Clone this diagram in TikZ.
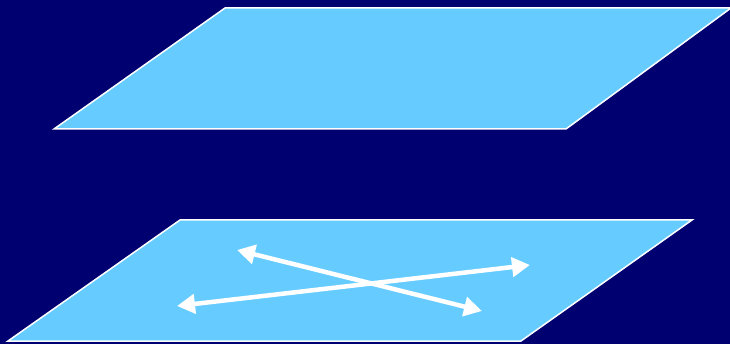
\documentclass[tikz,border=0pt]{standalone}
\usetikzlibrary{arrows.meta}
\definecolor{navy}{HTML}{000070}
\definecolor{plane}{HTML}{66CCFF}
\begin{document}
\begin{tikzpicture}[x=1pt,y=-1pt,
  planestyle/.style={fill=plane,draw=white,line width=1.5pt,line join=miter},
  dblarrow/.style={draw=white,line width=4.5pt,{Triangle[length=18pt,width=19pt]}-{Triangle[length=18pt,width=19pt]}}]
\fill[navy] (0,0) rectangle (730,344);
\useasboundingbox (0,0) rectangle (730,344);
% top plane
\coordinate (t1) at (54,129);
\coordinate (t2) at (225,8);
\coordinate (t3) at (731,8);
\coordinate (t4) at (566,129);
\draw[planestyle] (t1) -- (t2) -- (t3) -- (t4) -- cycle;
% bottom plane
\coordinate (b1) at (8,341);
\coordinate (b2) at (180,220);
\coordinate (b3) at (692,220);
\coordinate (b4) at (521,341);
\draw[planestyle] (b1) -- (b2) -- (b3) -- (b4) -- cycle;
% arrows
\coordinate (a1s) at (177,306);
\coordinate (a1e) at (530,265);
\coordinate (a2s) at (237,250);
\coordinate (a2e) at (482,311);
\draw[dblarrow] (a1s) -- (a1e);
\draw[dblarrow] (a2s) -- (a2e);
\end{tikzpicture}
\end{document}
